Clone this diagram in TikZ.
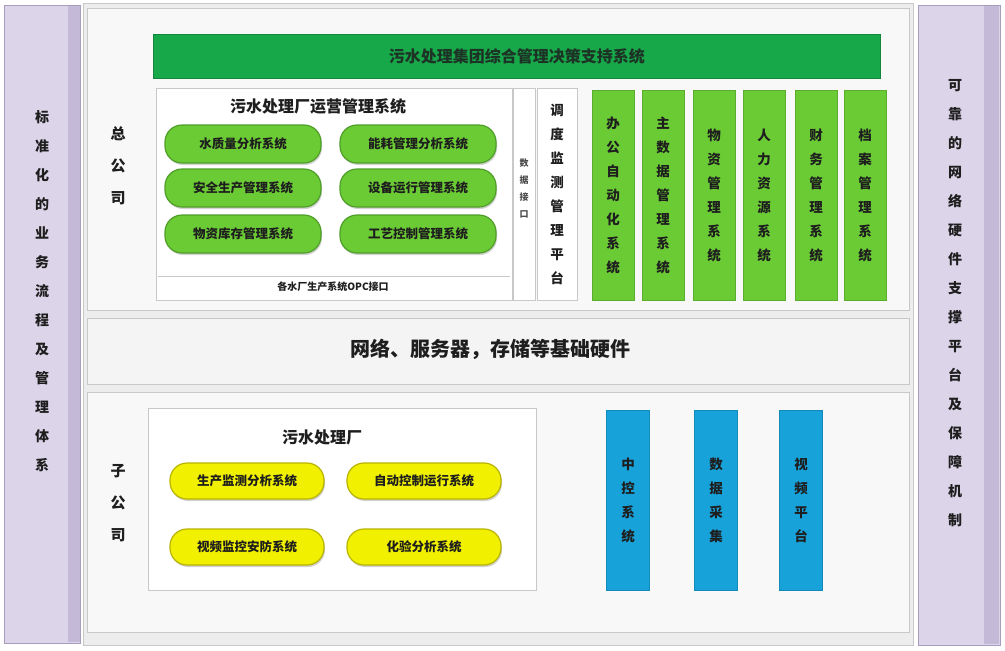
\documentclass[tikz,border=0pt]{standalone}
\usepackage{fontspec}
\setmainfont{Noto Sans CJK SC}
\newfontfamily\cjk{Noto Sans CJK SC}
\usetikzlibrary{shadows}
\definecolor{lav}{HTML}{DCD4E9}
\definecolor{lavdk}{HTML}{C4BAD8}
\definecolor{lavln}{HTML}{A89CBF}
\definecolor{panel}{HTML}{EDEDED}
\definecolor{sect}{HTML}{F8F8F8}
\definecolor{sectln}{HTML}{C8C8C8}
\definecolor{barg}{HTML}{17A84A}
\definecolor{lgreen}{HTML}{6BCB35}
\definecolor{lgreenln}{HTML}{4E9E28}
\definecolor{yel}{HTML}{F0F000}
\definecolor{yelln}{HTML}{B8B400}
\definecolor{blu}{HTML}{17A2DA}
\definecolor{txt}{HTML}{1E1E1E}
\tikzset{
  sectbox/.style={draw=sectln, line width=1.2pt, fill=sect},
  sidebar/.style={draw=lavln, line width=1pt, fill=lav},
  gpill/.style={draw=lgreenln, line width=1.2pt, fill=lgreen, rounded corners=17pt,
    minimum width=156pt, minimum height=38pt, text=txt,
    font=\cjk\bfseries\fontsize{12.5}{14}\selectfont, drop shadow={shadow xshift=1pt, shadow yshift=-2pt, opacity=0.35}},
  ypill/.style={draw=yelln, line width=1.2pt, fill=yel, rounded corners=17pt,
    minimum width=154pt, minimum height=36pt, text=txt,
    font=\cjk\bfseries\fontsize{12.5}{14}\selectfont, drop shadow={shadow xshift=1pt, shadow yshift=-2pt, opacity=0.35}},
  gcol/.style={fill=lgreen, draw=lgreen!85!black, line width=0.6pt, minimum width=42pt, minimum height=210pt, text=txt},
  bcol/.style={fill=blu, draw=blu!85!black, line width=0.6pt, minimum width=43pt, minimum height=180pt, text=txt},
  vt/.style={align=center, text=txt, font=\cjk\bfseries\fontsize{14}{29}\selectfont},
  vts/.style={align=center, text=txt, font=\cjk\bfseries\fontsize{13.5}{24}\selectfont},
  lbl/.style={text=txt, font=\cjk\bfseries\fontsize{16}{18}\selectfont},
}
\begin{document}
\begin{tikzpicture}[x=1pt,y=-1pt]
\useasboundingbox (0,0) rectangle (1005,651);
\fill[white] (0,0) rectangle (1005,651);
% side bars
\node[sidebar, minimum width=76pt, minimum height=638pt, anchor=north west] (lbar) at (4,5) {};
\fill[lavdk] (68,6) rectangle (80,642);
\node[sidebar, minimum width=82pt, minimum height=640pt, anchor=north west] (rbar) at (918,5) {};
\fill[lavdk] (984,6) rectangle (999,644);
\node[vt] (ltxt) at (42,291) {标\\准\\化\\的\\业\\务\\流\\程\\及\\管\\理\\体\\系};
\node[vt] (rtxt) at (955,303) {可\\靠\\的\\网\\络\\硬\\件\\支\\撑\\平\\台\\及\\保\\障\\机\\制};
% central panel
\node[draw=sectln, line width=1pt, fill=panel, minimum width=830pt, minimum height=642pt, anchor=north west] (panel) at (83,3) {};
\node[sectbox, minimum width=822pt, minimum height=302pt, anchor=north west] (top) at (87,8) {};
\node[sectbox, fill=panel!60!white, minimum width=822pt, minimum height=66pt, anchor=north west] (mid) at (87,318) {};
\node[sectbox, minimum width=822pt, minimum height=240pt, anchor=north west] (bot) at (87,392) {};
% top section
\node[fill=barg, draw=barg!80!black, line width=0.6pt, minimum width=727pt, minimum height=44pt, anchor=north west,
  text=txt!85!barg, font=\cjk\bfseries\fontsize{16}{18}\selectfont] (gbar) at (153,34) {污水处理集团综合管理决策支持系统};
\node[vt, font=\cjk\bfseries\fontsize{15}{32}\selectfont] (zgs) at (118,166) {总\\公\\司};
\node[draw=sectln, line width=1pt, fill=white, minimum width=356pt, minimum height=212pt, anchor=north west] (ops) at (156,88) {};
\draw[sectln, line width=1pt] (158,276) -- (510,276);
\node[lbl] (opstitle) at (318,106) {污水处理厂运营管理系统};
\node[text=txt, font=\cjk\bfseries\fontsize{10}{12}\selectfont] (opsif) at (333,287) {各水厂生产系统OPC接口};
\node[gpill] (g1) at (243,144) {水质量分析系统};
\node[gpill] (g2) at (418,144) {能耗管理分析系统};
\node[gpill] (g3) at (243,188) {安全生产管理系统};
\node[gpill] (g4) at (418,188) {设备运行管理系统};
\node[gpill] (g5) at (243,234) {物资库存管理系统};
\node[gpill] (g6) at (418,234) {工艺控制管理系统};
\node[draw=sectln, line width=0.8pt, fill=white, minimum width=22pt, minimum height=212pt, anchor=north west] (ncol) at (513,88) {};
\node[align=center, text=txt!80, font=\cjk\bfseries\fontsize{9}{17}\selectfont] (ncoltxt) at (524,188) {数\\据\\接\\口};
\node[draw=sectln, line width=0.8pt, fill=white, minimum width=40pt, minimum height=212pt, anchor=north west] (plat) at (537,88) {};
\node[vts] (plattxt) at (557,194) {调\\度\\监\\测\\管\\理\\平\\台};
\node[gcol] (c1) at (613,195) {}; \node[vts] at (c1) {办\\公\\自\\动\\化\\系\\统};
\node[gcol] (c2) at (663,195) {}; \node[vts] at (c2) {主\\数\\据\\管\\理\\系\\统};
\node[gcol] (c3) at (714,195) {}; \node[vts] at (c3) {物\\资\\管\\理\\系\\统};
\node[gcol] (c4) at (764,195) {}; \node[vts] at (c4) {人\\力\\资\\源\\系\\统};
\node[gcol] (c5) at (816,195) {}; \node[vts] at (c5) {财\\务\\管\\理\\系\\统};
\node[gcol] (c6) at (865,195) {}; \node[vts] at (c6) {档\\案\\管\\理\\系\\统};
% middle
\node[lbl, font=\cjk\bfseries\fontsize{20}{22}\selectfont] (midtxt) at (490,349) {网络、服务器，存储等基础硬件};
% bottom section
\node[vt, font=\cjk\bfseries\fontsize{15}{32}\selectfont] (zigs) at (118,503) {子\\公\\司};
\node[draw=sectln, line width=1.2pt, fill=white, minimum width=388pt, minimum height=182pt, anchor=north west] (plant) at (148,408) {};
\node[lbl] (planttitle) at (322,437) {污水处理厂};
\node[ypill] (y1) at (247,481) {生产监测分析系统};
\node[ypill] (y2) at (424,481) {自动控制运行系统};
\node[ypill] (y3) at (247,547) {视频监控安防系统};
\node[ypill] (y4) at (424,547) {化验分析系统};
\node[bcol] (b1) at (628,500) {}; \node[vts] at (b1) {中\\控\\系\\统};
\node[bcol] (b2) at (716,500) {}; \node[vts] at (b2) {数\\据\\采\\集};
\node[bcol] (b3) at (801,500) {}; \node[vts] at (b3) {视\\频\\平\\台};
\end{tikzpicture}
\end{document}
